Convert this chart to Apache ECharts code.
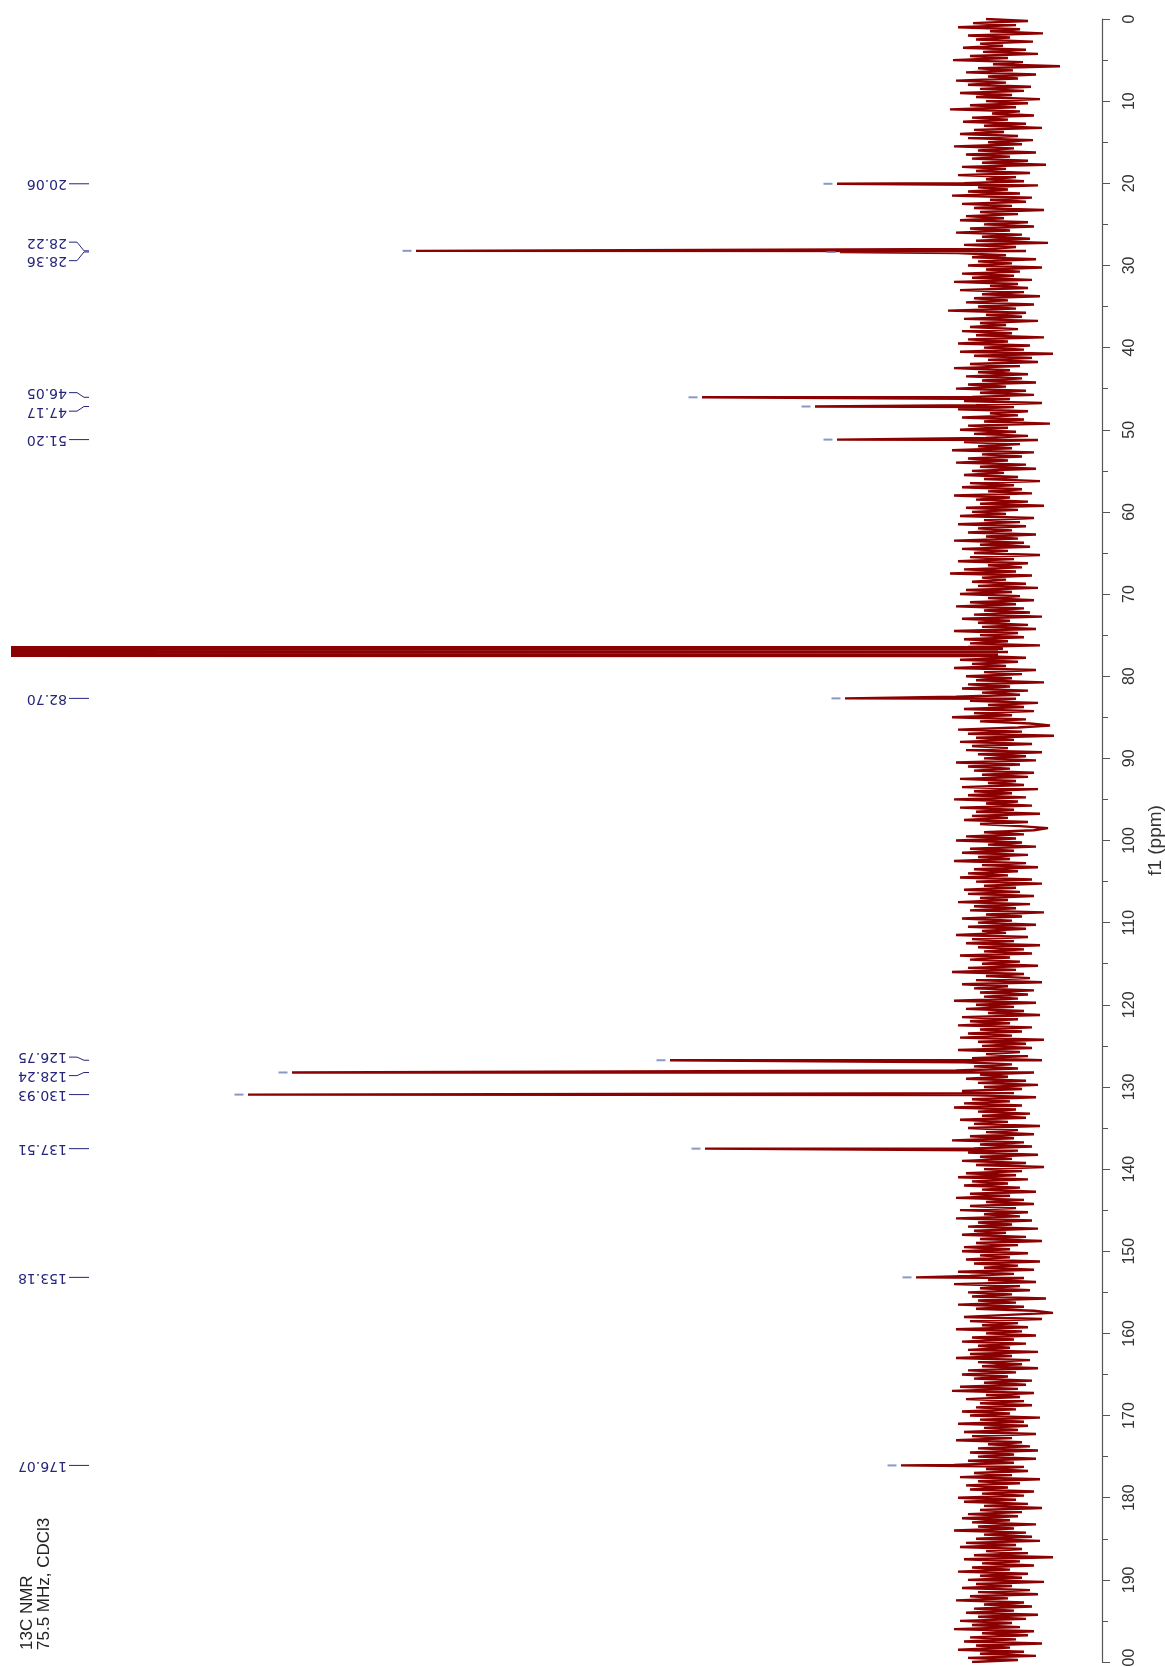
<!DOCTYPE html>
<html>
<head>
<meta charset="utf-8">
<script src="https://cdn.jsdelivr.net/npm/echarts@6/dist/echarts.min.js"></script>
<style>html,body{margin:0;padding:0;background:#fff;overflow:hidden}#c{width:1165px;height:1667px}</style>
</head>
<body>
<div id="c"></div>
<script>
// ---- data ----
const titleLines = ["13C NMR", "75.5 MHz, CDCl3"];
const axisName = "f1 (ppm)";
const ppmTicks = [0, 200, 10];           // min, max, interval
const noiseStep = 0.25;                  // ppm spacing of noise samples (starting at 0 ppm)
const noise = [
12,-30,25,-18,40,-22,8,-45,30,-12,22,-35,18,-5,35,-28,15,-40,28,-10,45,-25,5,-62,20,
-15,32,-38,10,-20,42,-8,30,-33,18,-26,38,-14,22,-42,12,-30,28,-18,48,-22,6,-36,26,-10,
35,-28,14,-44,24,-6,38,-20,30,-35,10,-24,44,-16,20,-38,32,-12,26,-30,16,-48,36,-8,22,
-32,40,-18,12,-26,34,-40,20,-10,30,-22,46,-34,8,-28,36,-14,24,-46,18,-20,32,-6,38,-30,
14,-36,28,-12,42,-24,16,-32,22,-50,34,-18,10,-28,40,-8,26,-38,20,-14,30,-44,12,-22,36,
-16,26,-34,44,-20,8,-30,38,-26,16,-42,24,-10,32,-36,20,-18,50,-28,12,-24,34,-40,18,-8,
28,-20,36,-14,22,-46,30,-10,40,-32,14,-26,38,-55,24,-34,10,-40,28,-22,44,-12,20,-30,32,
-24,16,-38,30,-8,42,-28,18,-36,26,-12,34,-44,22,-16,40,-30,8,-20,36,-26,14,-52,30,-10,
38,-18,24,-30,12,-40,34,-22,20,-14,46,-36,16,-24,30,-10,42,-28,18,-38,26,-6,34,-20,14,
-42,28,-16,36,-24,10,-34,44,-12,22,-30,18,-46,32,-20,26,-8,38,-36,14,-22,40,-28,20,-14,
30,-38,12,-20,44,-26,18,-32,36,-10,24,-42,28,-16,40,-30,10,-24,34,-18,48,-34,16,-8,26,
-28,20,-40,32,-14,38,-22,10,-36,28,-18,42,-26,14,-32,24,-44,36,-12,20,-30,16,-38,44,-20,
18,-26,34,-10,28,-42,22,-16,40,-34,12,-28,38,-20,26,-8,44,-38,14,-24,32,-14,22,-46,30,
-12,36,-30,16,-22,42,-18,28,-40,10,-26,34,-36,24,-14,46,-28,18,-32,-52,-20,40,-24,30,-56,
22,-16,38,-34,26,-10,32,-44,20,-28,14,-38,42,-22,30,-12,24,-36,16,-30,38,-18,10,-26,36,
-40,24,-14,30,-28,44,-20,12,-34,38,-16,22,-42,26,-10,34,-30,18,-22,-50,-36,14,-26,32,-18,
42,-24,10,-38,28,-16,36,-30,20,-12,44,-28,16,-40,24,-20,30,-10,38,-34,22,-44,14,-18,34,
-22,30,-36,18,-10,40,-32,24,-18,28,-46,12,-24,36,-14,20,-38,30,-28,16,-8,42,-30,26,-16,
32,-42,20,-26,14,-34,38,-12,28,-22,16,-40,30,-18,46,-26,12,-32,22,-44,36,-10,24,-36,18,
-30,14,-20,44,-38,22,-16,32,-26,10,-42,36,-20,28,-12,40,-34,18,-24,30,-14,38,-46,20,-28,
16,-34,40,-22,12,-30,26,-44,34,-14,24,-20,42,-36,18,-10,32,-28,20,-40,14,-24,36,-16,28,
-38,26,-12,34,-24,44,-18,20,-32,16,-28,38,-10,24,-42,30,-20,12,-36,28,-16,46,-26,18,-34,
24,-20,30,-40,18,-14,36,-28,22,-46,14,-24,32,-18,40,-30,26,-10,34,-22,16,-38,28,-12,42,
-26,12,-36,28,-18,38,-30,14,-22,42,-34,20,-14,30,-40,24,-8,36,-28,18,-44,22,-20,34,-12,
36,-30,18,-12,32,-42,24,-20,14,-36,40,-16,28,-26,10,-38,44,-22,18,-32,30,-14,26,-48,20,
-18,40,-26,22,-36,-55,-10,34,-44,28,-20,16,-30,42,-24,12,-38,26,-16,36,-28,20,-12,30,-40,
28,-14,42,-32,20,-24,16,-40,30,-18,36,-10,24,-34,14,-28,38,-20,46,-36,12,-22,32,-26,18,
-34,22,-18,36,-12,28,-42,18,-26,40,-30,14,-20,34,-38,26,-14,42,-24,10,-32,20,-40,28,-16,
20,-38,30,-16,44,-26,12,-30,24,-14,38,-42,20,-22,32,-10,28,-36,16,-26,40,-18,34,-30,14,
-44,18,-24,30,-20,36,-12,26,-38,20,-16,44,-28,14,-34,22,-42,32,-18,38,-24,12,-30,24,-55,
34,-22,16,-36,26,-12,40,-30,18,-24,30,-46,22,-14,36,-32,20,-40,28,-10,42,-26,14,-34,24,
-16,32,-40,20,-28,38,-14,26,-22,44,-36,16,-30,28,-18,34,-44,22,-12,40,-26,18,-38,30,-20,
26
];
const peakPpm    = [20.06, 28.22, 28.36, 46.05, 47.17, 51.20, 82.70, 126.75, 128.24, 130.93, 137.51, 153.18, 176.07];
const peakHeight = [161,   582,   158,   296,   183,   161,   153,   328,    706,    750,    293,    82,     97];
const solventPpm    = [76.45, 76.5, 76.55, 76.6, 76.65, 76.7, 76.75, 76.8, 76.85, 76.9, 76.95, 77.0, 77.05, 77.1, 77.15, 77.2, 77.25, 77.3, 77.35, 77.4, 77.45, 77.5, 77.55];
const solventHeight = [30,    1500,  10,    1600,  -5,    1650,  20,    1700,  0,     1700,  15,    1750,  -10,   1700,  5,     1650,  25,    1600,  0,     1550,  10,    1500,  20];

// ---- build series ----
const pts = [];
noise.forEach((v, i) => { const p = i * noiseStep; if (p > 76.4 && p < 77.6) return; pts.push([v, p]); });
peakPpm.forEach((p, i) => pts.push([peakHeight[i], p]));
solventPpm.forEach((p, i) => pts.push([solventHeight[i], p]));
pts.sort((a, b) => a[1] - b[1]);

const chart = echarts.init(document.getElementById('c'), null, { renderer: 'canvas' });
const BASE_X = 998, LEFT = 13, RIGHT = 63;
const W = 1165;
chart.setOption({
  animation: false,
  backgroundColor: '#ffffff',
  grid: { left: LEFT, right: RIGHT, top: 19, bottom: 5, containLabel: false, outerBoundsMode: 'none' },
  xAxis: { type: 'value', inverse: true, min: -(W - RIGHT - BASE_X), max: BASE_X - LEFT, show: false },
  yAxis: {
    type: 'value', position: 'right', inverse: true,
    min: ppmTicks[0], max: ppmTicks[1], interval: ppmTicks[2],
    name: axisName, nameLocation: 'middle', nameRotate: 90, nameGap: 36,
    nameTextStyle: { fontFamily: 'Liberation Sans', fontSize: 19, color: '#333' },
    axisLine: { show: true, onZero: false, lineStyle: { color: '#555', width: 1.2 } },
    axisTick: { show: true, length: 8, lineStyle: { color: '#555' } },
    minorTick: { show: true, splitNumber: 2, length: 6, lineStyle: { color: '#555' } },
    splitLine: { show: false },
    axisLabel: { rotate: 90, margin: 20, fontFamily: 'Liberation Sans', fontSize: 16, color: '#333', showMinLabel: true, showMaxLabel: true }
  },
  series: [
    { type: 'line', data: pts, showSymbol: false, symbol: 'none', clip: true, sampling: null,
      lineStyle: { color: '#8b0000', width: 2.4 }, z: 2 },
    { type: 'scatter', data: peakPpm.map((p, i) => [peakHeight[i] + 9, p]), symbol: 'rect',
      symbolSize: [9, 2], itemStyle: { color: '#6f7db5' }, z: 3 }
  ]
});

// ---- peak labels (rotated 180°) with connectors ----
const peakY = peakPpm.map(p => chart.convertToPixel({ yAxisIndex: 0 }, p));
const labY = peakY.slice();
const GAP = 18.5;
for (let it = 0; it < 200; it++) {
  for (let i = 1; i < labY.length; i++) {
    const d = labY[i] - labY[i - 1];
    if (d < GAP) { const s = (GAP - d) / 2; labY[i] += s; labY[i - 1] -= s; }
  }
}
const labelColor = '#25257a';
const X_TEXT = 67, X0 = 69, X1 = 77, X2 = 84, X3 = 89;
const elements = [];
peakPpm.forEach((p, i) => {
  elements.push({
    type: 'text', x: X_TEXT, y: labY[i], rotation: Math.PI,
    style: { text: p.toFixed(2), fill: labelColor, font: '14px "DejaVu Sans"', align: 'left', verticalAlign: 'middle' }
  });
  elements.push({
    type: 'polyline',
    shape: { points: [[X0, labY[i]], [X1, labY[i]], [X2, peakY[i]], [X3, peakY[i]]] },
    style: { stroke: labelColor, lineWidth: 1, fill: null }
  });
});
titleLines.forEach((t, k) => {
  elements.push({
    type: 'text', x: 27 + k * 17, y: 1650, rotation: Math.PI / 2,
    style: { text: t, fill: '#222', font: '17px "Liberation Sans"', align: 'left', verticalAlign: 'middle' }
  });
});
chart.setOption({ graphic: { elements } });
</script>
</body>
</html>
